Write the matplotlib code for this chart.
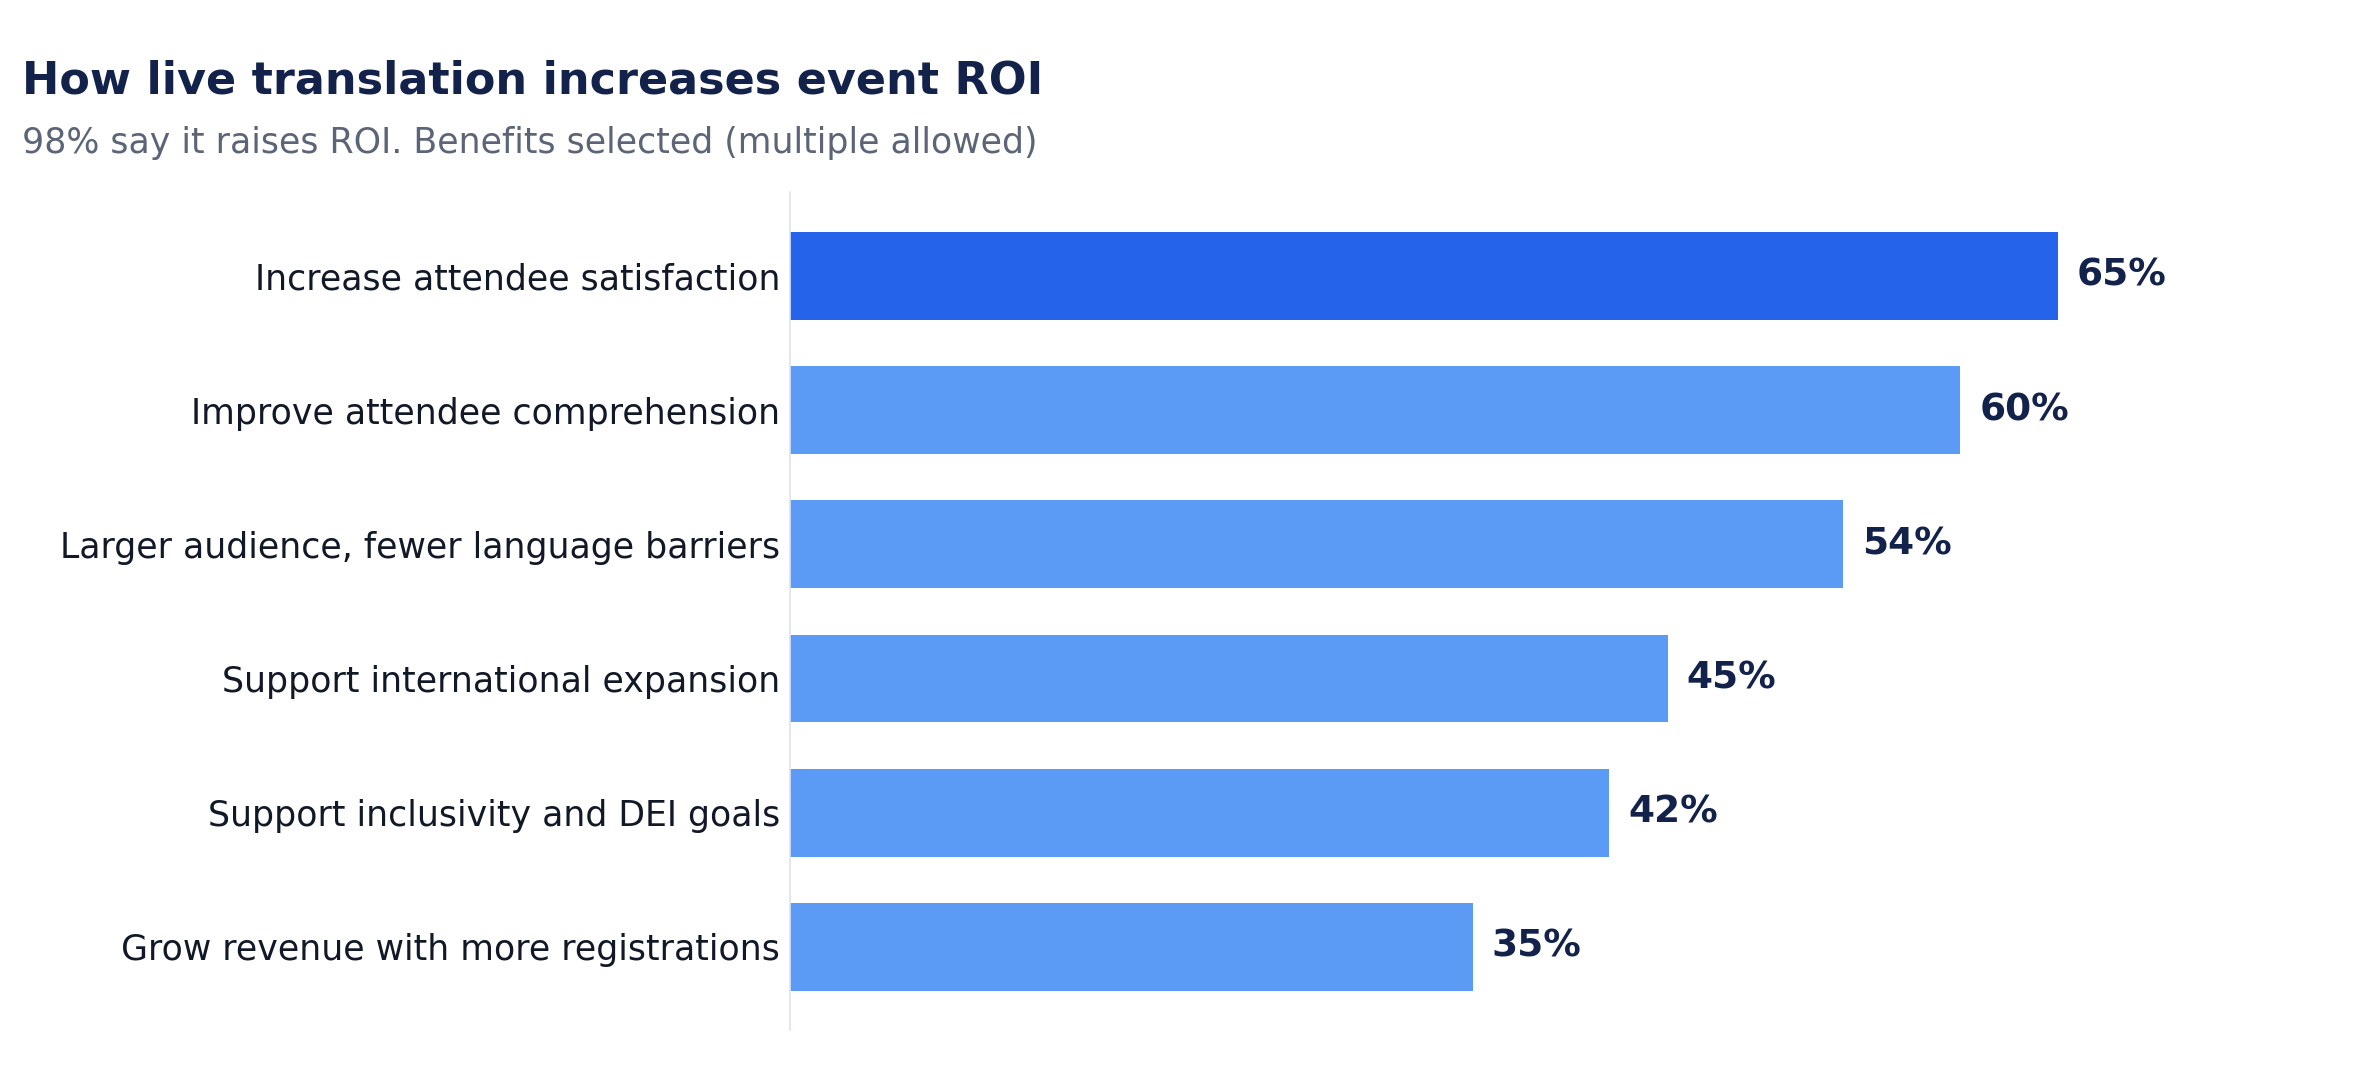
import matplotlib
matplotlib.use("Agg")
import matplotlib.pyplot as plt

categories = [
    "Increase attendee satisfaction",
    "Improve attendee comprehension",
    "Larger audience, fewer language barriers",
    "Support international expansion",
    "Support inclusivity and DEI goals",
    "Grow revenue with more registrations",
]
values = [65, 60, 54, 45, 42, 35]
value_labels = ["65%", "60%", "54%", "45%", "42%", "35%"]

title = "How live translation increases event ROI"
subtitle = "98% say it raises ROI. Benefits selected (multiple allowed)"

W, H = 2353, 1089
fig = plt.figure(figsize=(W / 100, H / 100), dpi=100)
fig.patch.set_facecolor("white")

ax = fig.add_axes([790 / W, 1 - 1030 / H, (2333 - 790) / W, (1030 - 192) / H])

colors = ["#2563eb"] + ["#5b9af5"] * (len(values) - 1)
ypos = list(range(len(values)))
ax.barh(ypos, values, height=0.655, color=colors, zorder=2)

for y, v, lab in zip(ypos, values, value_labels):
    ax.annotate(lab, xy=(v, y), xytext=(19, 0), textcoords="offset pixels",
                va="center", ha="left", fontsize=27, fontweight="bold",
                color="#12224a")

ax.set_ylim(5.62, -0.626)
ax.set_xlim(0, 79.1)
ax.set_yticks(ypos)
ax.set_yticklabels(categories, fontsize=25, color="#111827")
ax.tick_params(axis="y", length=0, pad=7)
ax.set_xticks([])
for s in ["top", "right", "bottom"]:
    ax.spines[s].set_visible(False)
ax.spines["left"].set_color("#dde4f0")
ax.spines["left"].set_linewidth(1.2)

fig.text(22 / W, 1 - 81 / H, title, fontsize=32, fontweight="bold",
         color="#12224a", ha="left", va="center")
fig.text(22 / W, 1 - 143 / H, subtitle, fontsize=25, color="#5b6577",
         ha="left", va="center")

fig.savefig("out.png", dpi=100, facecolor="white")
